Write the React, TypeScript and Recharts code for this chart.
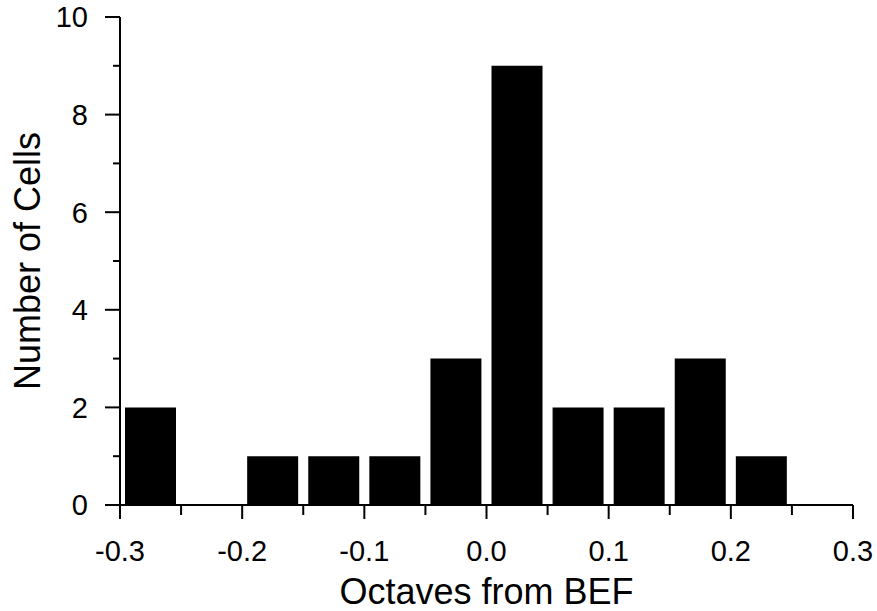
import React from "react";
import { Bar, BarChart, Label, XAxis, YAxis } from "recharts";

// bin centres (octaves from BEF), bins are 0.05 wide
const binCenters = [-0.275, -0.225, -0.175, -0.125, -0.075, -0.025, 0.025, 0.075, 0.125, 0.175, 0.225];
const cellCounts = [2, 0, 1, 1, 1, 3, 9, 2, 2, 3, 1];

const xTicks = [-0.3, -0.25, -0.2, -0.15, -0.1, -0.05, 0, 0.05, 0.1, 0.15, 0.2, 0.25, 0.3];
const yTicks = [0, 1, 2, 3, 4, 5, 6, 7, 8, 9, 10];

const data = binCenters.map((x, i) => ({ x, count: cellCounts[i] }));

const FONT = "'Liberation Sans', Arial, Helvetica, sans-serif";

const isMajorX = (v: number) => Math.round(v * 100) % 10 === 0;

const XTick = (props: any) => {
  const { x, y, payload } = props;
  const v = payload.value as number;
  const major = isMajorX(v);
  return (
    <g>
      <line x1={x} x2={x} y1={y} y2={y + (major ? 14 : 10)} stroke="#000" strokeWidth={2} />
      {major && (
        <text x={x} y={y + 56} textAnchor="middle" fontSize={29} fontFamily={FONT} fill="#000">
          {v.toFixed(1)}
        </text>
      )}
    </g>
  );
};

const YTick = (props: any) => {
  const { x, y, payload } = props;
  const v = payload.value as number;
  const major = v % 2 === 0;
  return (
    <g>
      <line x1={x - (major ? 15 : 7)} x2={x} y1={y} y2={y} stroke="#000" strokeWidth={2} />
      {major && (
        <text x={x - 32} y={y} dy="0.36em" textAnchor="end" fontSize={29} fontFamily={FONT} fill="#000">
          {v}
        </text>
      )}
    </g>
  );
};

const App = () => (
  <div style={{ position: "absolute", left: 0, top: 0, background: "#fff" }}>
    <BarChart
      width={877}
      height={611}
      data={data}
      margin={{ top: 17, right: 24, bottom: 26, left: 60 }}
    >
      <XAxis
        type="number"
        dataKey="x"
        domain={[-0.3, 0.3]}
        ticks={xTicks}
        interval={0}
        tickSize={0}
        tickMargin={0}
        tick={<XTick />}
        tickLine={false}
        axisLine={{ stroke: "#000", strokeWidth: 2 }}
        height={80}
        allowDataOverflow
      >
        <Label
          content={({ viewBox }: any) => (
            <text
              x={viewBox.x + viewBox.width / 2}
              y={viewBox.y + 99}
              textAnchor="middle"
              fontSize={36}
              fontFamily={FONT}
              fill="#000"
            >
              Octaves from BEF
            </text>
          )}
        />
      </XAxis>
      <YAxis
        type="number"
        domain={[0, 10]}
        ticks={yTicks}
        interval={0}
        tickSize={0}
        tickMargin={0}
        tick={<YTick />}
        tickLine={false}
        axisLine={{ stroke: "#000", strokeWidth: 2 }}
        width={60}
      >
        <Label
          content={({ viewBox }: any) => {
            const cx = 40;
            const cy = viewBox.y + viewBox.height / 2;
            return (
              <text
                x={cx}
                y={cy}
                textAnchor="middle"
                transform={`rotate(-90, ${cx}, ${cy})`}
                fontSize={36}
                fontFamily={FONT}
                fill="#000"
              >
                Number of Cells
              </text>
            );
          }}
        />
      </YAxis>
      <Bar dataKey="count" fill="#000" barSize={51} isAnimationActive={false} />
    </BarChart>
  </div>
);

export default App;
